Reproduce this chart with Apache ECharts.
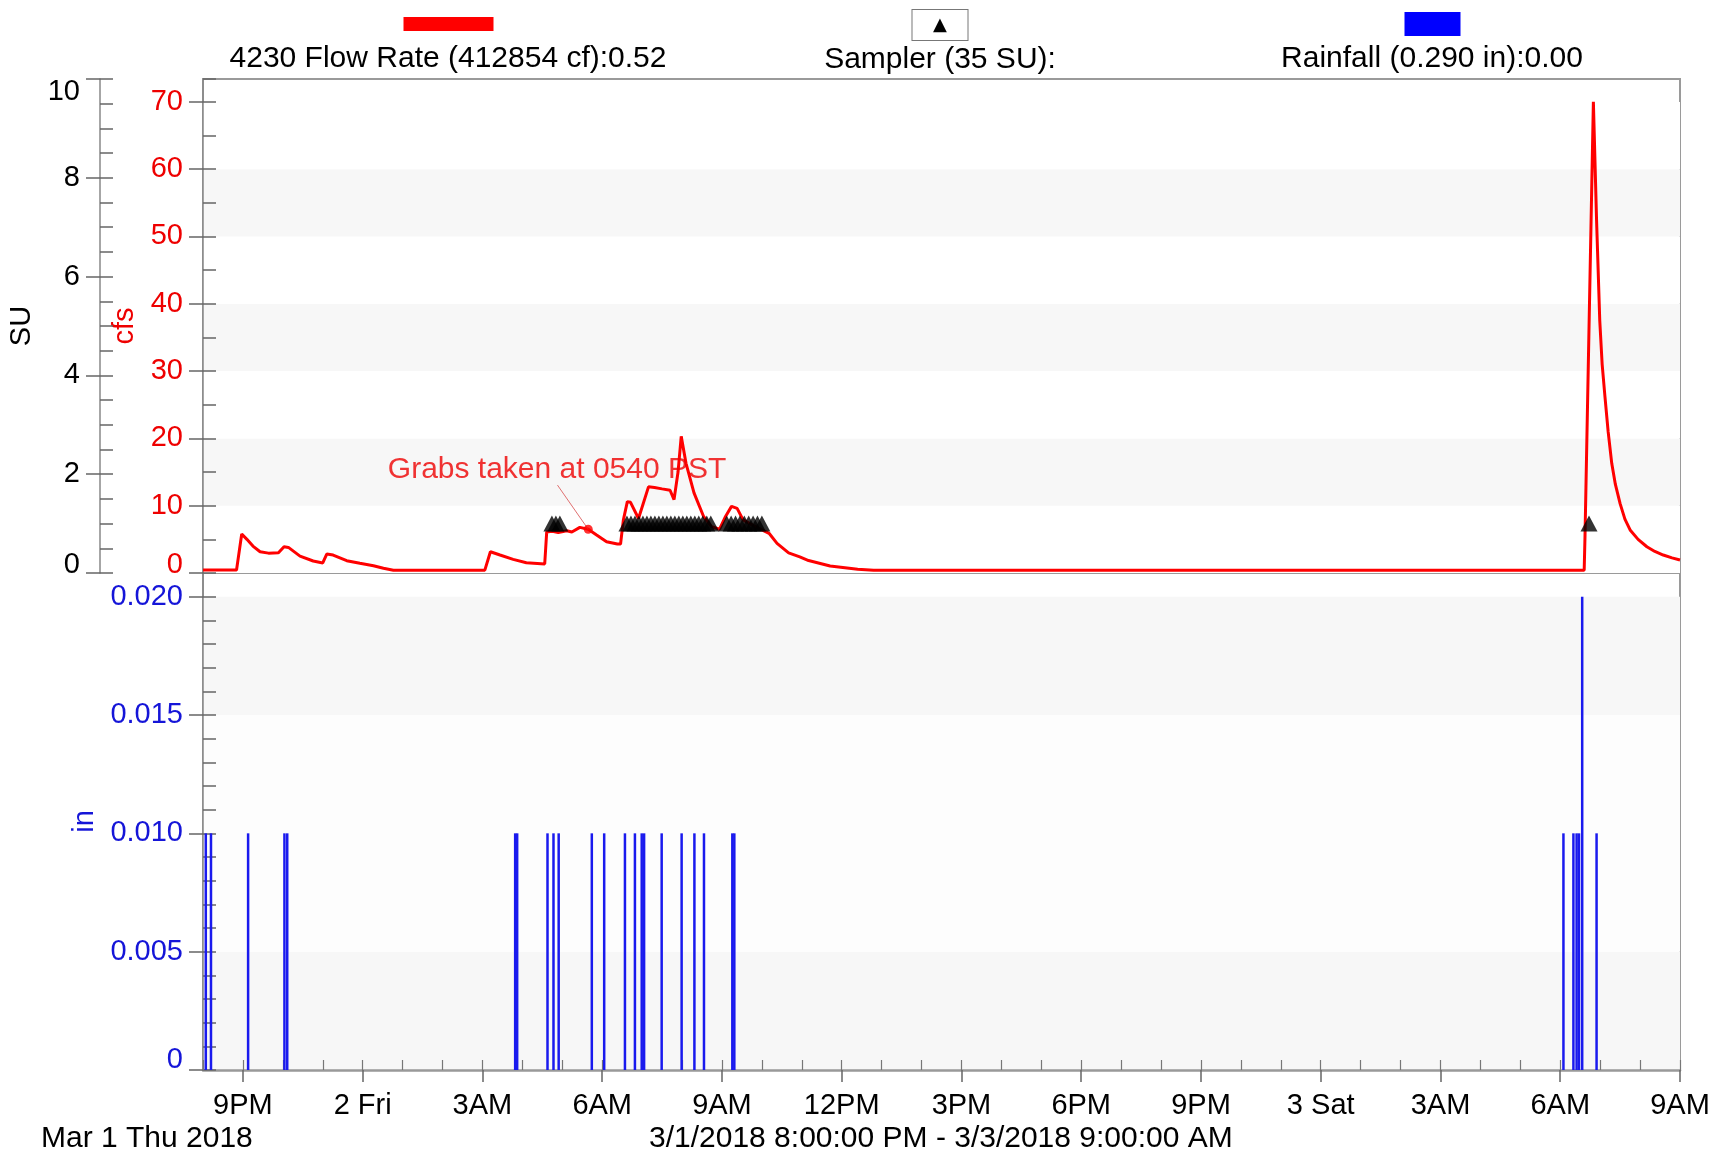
<!DOCTYPE html>
<html><head><meta charset="utf-8">
<script src="https://cdn.jsdelivr.net/npm/echarts@6/dist/echarts.min.js"></script>
<style>html,body{margin:0;padding:0;background:#fff}#c{width:1713px;height:1155px}</style>
</head><body><div id="c"></div>
<script>
// x values: hours after 3/1/2018 8:00 PM
const flowHours = [0, 0.84, 0.97, 1.10, 1.25, 1.43, 1.64, 1.89, 2.03, 2.14, 2.43, 2.76, 3.0, 3.1, 3.26, 3.6, 3.93, 4.27, 4.52, 4.77,
  7.06, 7.2, 7.44, 7.77, 8.1, 8.56, 8.61, 8.75, 8.9, 9.11, 9.24, 9.44, 9.65, 9.86, 10.11, 10.38, 10.46, 10.53, 10.63, 10.71,
  10.91, 11.16, 11.31, 11.5, 11.7, 11.8, 11.9, 11.98, 12.1, 12.3, 12.54, 12.74, 12.94, 13.09, 13.24, 13.38, 13.53, 13.8,
  14.18, 14.38, 14.67, 14.95, 15.17, 15.71, 16.4, 16.8, 34.6, 34.62, 34.83, 34.91, 34.99, 35.05, 35.12, 35.2, 35.29, 35.38,
  35.5, 35.62, 35.75, 35.95, 36.17, 36.37, 36.58, 36.8, 37];
const flowCfs = [0.45, 0.45, 5.8, 5.0, 4.0, 3.16, 2.95, 3.0, 3.9, 3.8, 2.5, 1.78, 1.5, 2.82, 2.67, 1.83, 1.44, 1.08, 0.7, 0.42,
  0.42, 3.16, 2.67, 2.03, 1.53, 1.34, 6.1, 6.2, 6.0, 6.28, 6.1, 6.78, 6.5, 5.64, 4.64, 4.3, 4.3, 7.86, 10.6, 10.5,
  8.1, 12.8, 12.7, 12.5, 12.3, 10.9, 15.0, 20.3, 16.3, 11.9, 8.4, 6.9, 6.5, 8.4, 9.9, 9.6, 7.9, 7.0,
  5.9, 4.4, 3.0, 2.4, 1.85, 1.04, 0.56, 0.42, 0.42, 5.4, 70.0, 52.4, 37.5, 31.0, 26.2, 21.0, 16.3, 13.2,
  10.3, 8.0, 6.4, 5.0, 3.9, 3.2, 2.67, 2.25, 1.93];

const samplerHours = [8.74, 8.84, 8.94,
  10.62, 10.72, 10.82, 10.92, 11.02, 11.12, 11.22, 11.32, 11.42, 11.52, 11.62, 11.72, 11.82, 11.92, 12.02, 12.12, 12.22, 12.32, 12.42, 12.52, 12.62, 12.72,
  13.12, 13.23, 13.34, 13.45, 13.56, 13.67, 13.78, 13.89, 14.0,
  34.72];
const samplerSU = [1, 1, 1,
  1, 1, 1, 1, 1, 1, 1, 1, 1, 1, 1, 1, 1, 1, 1, 1, 1, 1, 1, 1, 1, 1,
  1, 1, 1, 1, 1, 1, 1, 1, 1,
  1];

const rainHours = [0.07, 0.20, 1.13, 2.04, 2.11, 7.82, 7.87, 8.63, 8.78, 8.91, 9.74, 10.05, 10.57, 10.82, 10.99, 11.05,
  11.49, 11.99, 12.31, 12.55, 13.26, 13.31, 34.08, 34.33, 34.41, 34.47, 34.55, 34.91];
const rainInches = [0.01, 0.01, 0.01, 0.01, 0.01, 0.01, 0.01, 0.01, 0.01, 0.01, 0.01, 0.01, 0.01, 0.01, 0.01, 0.01,
  0.01, 0.01, 0.01, 0.01, 0.01, 0.01, 0.01, 0.01, 0.01, 0.01, 0.02, 0.01];

const xTickHours = [1, 4, 7, 10, 13, 16, 19, 22, 25, 28, 31, 34, 37];
const xTickLabels = ['9PM', '2 Fri', '3AM', '6AM', '9AM', '12PM', '3PM', '6PM', '9PM', '3 Sat', '3AM', '6AM', '9AM'];
const cfsTicks = [0, 10, 20, 30, 40, 50, 60, 70];
const suTicks = [0, 2, 4, 6, 8, 10];
const inTicks = [0, 0.005, 0.01, 0.015, 0.02];

const grabHour = 9.65, grabCfs = 6.5;
const grabLabelPos = [8.87, 15.3];
const grabLineStart = [8.88, 13.06];

const FONT = 'Liberation Sans, Arial, Helvetica, sans-serif';
const RED = '#ee0000', BLUE = '#1515d8';
const FS = 29, FS2 = 30;

function zip(a, b) { return a.map((v, i) => [v, b[i]]); }
function rs(color, pad) { return { color: color, fontSize: FS, fontFamily: FONT, padding: pad }; }

const legendCommon = {
  top: 9, padding: 0, itemWidth: 0, itemHeight: 0, itemGap: 0, icon: 'rect', selectedMode: false,
  itemStyle: { opacity: 0 },
  textStyle: {
    fontFamily: FONT,
    rich: {
      sp: { width: 1, height: 30, lineHeight: 30, align: 'left' },
      red: { width: 90, height: 14, backgroundColor: '#ff0000', align: 'center', verticalAlign: 'middle' },
      box: { width: 55, height: 30, lineHeight: 30, backgroundColor: '#ffffff', borderColor: '#777', borderWidth: 1, align: 'center', verticalAlign: 'middle', fontSize: 18, color: '#000', fontFamily: 'DejaVu Sans' },
      blue: { width: 56, height: 24, backgroundColor: '#0000ff', align: 'center', verticalAlign: 'middle' },
      t: { width: 500, align: 'center', fontSize: FS2, lineHeight: 40, color: '#000', fontFamily: FONT }
    }
  }
};

const option = {
  animation: false,
  backgroundColor: '#ffffff',
  textStyle: { fontFamily: FONT },
  title: [
    { text: 'Mar 1 Thu 2018', left: 41, top: 1124, padding: 0, textStyle: { fontSize: FS2, fontWeight: 'normal', color: '#000', fontFamily: FONT } },
    { text: '3/1/2018 8:00:00 PM - 3/3/2018 9:00:00 AM', left: 649, top: 1124, padding: 0, textStyle: { fontSize: FS2, fontWeight: 'normal', color: '#000', fontFamily: FONT } }
  ],
  legend: [
    Object.assign({}, legendCommon, { data: ['4230 Flow Rate'], left: 448 - 255, formatter: () => '{sp| }{red| }\n{t|4230 Flow Rate (412854 cf):0.52}' }),
    Object.assign({}, legendCommon, { data: ['Sampler'], left: 940 - 255, formatter: () => '{box|▲}\n{t|Sampler (35 SU):}' }),
    Object.assign({}, legendCommon, { data: ['Rainfall'], left: 1432 - 255, formatter: () => '{sp| }{blue| }\n{t|Rainfall (0.290 in):0.00}' })
  ],
  grid: [
    { left: 203, right: 33, top: 79, height: 494, show: true, borderColor: '#9a9a9a', borderWidth: 2, backgroundColor: 'transparent', outerBoundsMode: 'none', containLabel: false },
    { left: 203, right: 33, top: 573, height: 497, show: true, borderColor: '#9a9a9a', borderWidth: 2, backgroundColor: 'transparent', outerBoundsMode: 'none', containLabel: false }
  ],
  xAxis: [
    { type: 'value', gridIndex: 0, position: 'bottom', min: 0, max: 37, axisLine: { show: false }, axisTick: { show: false }, axisLabel: { show: false }, splitLine: { show: false } },
    { type: 'value', gridIndex: 1, position: 'bottom', min: 0, max: 37,
      axisLine: { show: true, onZero: false, lineStyle: { color: '#999', width: 2.5 } },
      axisTick: { show: true, inside: false, length: 12, customValues: xTickHours, lineStyle: { color: '#666', width: 1.5 } },
      axisLabel: { show: true, customValues: xTickHours, margin: 21, color: '#000', fontSize: FS, fontFamily: FONT,
        formatter: v => { const i = xTickHours.indexOf(Math.round(v)); return i >= 0 ? xTickLabels[i] : ''; } },
      splitLine: { show: false } },
    { type: 'value', gridIndex: 1, position: 'bottom', min: 0, max: 37, interval: 1,
      axisLine: { show: false, onZero: false }, axisTick: { show: true, inside: true, length: 10, lineStyle: { color: '#777', width: 1.2 } },
      axisLabel: { show: false }, splitLine: { show: false } }
  ],
  yAxis: [
    { type: 'value', gridIndex: 0, position: 'left', min: 0, max: 73.4, interval: 10,
      name: 'cfs', nameLocation: 'middle', nameGap: 61, nameTextStyle: { color: RED, fontSize: FS, fontFamily: FONT },
      axisLine: { show: true, lineStyle: { color: '#888', width: 1.5 } },
      axisTick: { show: true, inside: false, length: 14, customValues: cfsTicks, lineStyle: { color: '#666', width: 1.5 } },
      axisLabel: { show: true, customValues: cfsTicks, margin: 20, color: RED, fontSize: FS, fontFamily: FONT,
        formatter: v => v === 0 ? '{z|0}' : String(v), rich: { z: rs(RED, [0, 0, 17, 0]) } },
      splitLine: { show: false },
      splitArea: { show: true, areaStyle: { color: ['#ffffff', '#f7f7f7'] } } },
    { type: 'value', gridIndex: 0, position: 'left', min: 0, max: 73.4, interval: 5,
      axisLine: { show: false }, axisTick: { show: true, inside: true, length: 13, lineStyle: { color: '#666', width: 1.5 } },
      axisLabel: { show: false }, splitLine: { show: false } },
    { type: 'value', gridIndex: 0, position: 'left', offset: 103, min: 0, max: 10, interval: 2,
      name: 'SU', nameLocation: 'middle', nameGap: 62, nameTextStyle: { color: '#000', fontSize: FS, fontFamily: FONT },
      axisLine: { show: true, lineStyle: { color: '#888', width: 1.5 } },
      axisTick: { show: true, inside: false, length: 14, customValues: suTicks, lineStyle: { color: '#666', width: 1.5 } },
      axisLabel: { show: true, customValues: suTicks, margin: 20, color: '#000', fontSize: FS, fontFamily: FONT,
        formatter: v => v === 0 ? '{z|0}' : (v === 10 ? '{d|10}' : String(v)),
        rich: { z: rs('#000', [0, 0, 17, 0]), d: rs('#000', [26, 0, 0, 0]) } },
      splitLine: { show: false } },
    { type: 'value', gridIndex: 0, position: 'left', offset: 103, min: 0, max: 10, interval: 0.5,
      axisLine: { show: false }, axisTick: { show: true, inside: true, length: 13, lineStyle: { color: '#666', width: 1.5 } },
      axisLabel: { show: false }, splitLine: { show: false } },
    { type: 'value', gridIndex: 1, position: 'left', min: 0, max: 0.021, interval: 0.005,
      name: 'in', nameLocation: 'middle', nameGap: 104, nameTextStyle: { color: BLUE, fontSize: FS, fontFamily: FONT },
      axisLine: { show: true, lineStyle: { color: '#888', width: 1.5 } },
      axisTick: { show: true, inside: false, length: 14, customValues: inTicks, lineStyle: { color: '#666', width: 1.5 } },
      axisLabel: { show: true, customValues: inTicks, margin: 20, color: BLUE, fontSize: FS, fontFamily: FONT,
        formatter: v => v === 0 ? '{z|0}' : v.toFixed(3), rich: { z: rs(BLUE, [0, 0, 20, 0]) } },
      splitLine: { show: false },
      splitArea: { show: true, areaStyle: { color: ['#f7f7f7', '#fdfdfd', '#fdfdfd', '#f7f7f7'] } } },
    { type: 'value', gridIndex: 1, position: 'left', min: 0, max: 0.021, interval: 0.001,
      axisLine: { show: false }, axisTick: { show: true, inside: true, length: 13, lineStyle: { color: '#666', width: 1.5 } },
      axisLabel: { show: false }, splitLine: { show: false } }
  ],
  series: [
    { name: '4230 Flow Rate', type: 'line', xAxisIndex: 0, yAxisIndex: 0, data: zip(flowHours, flowCfs),
      showSymbol: false, symbol: 'none', silent: true, z: 3, color: '#ff0000',
      lineStyle: { color: '#ff0000', width: 3 } },
    { name: 'Sampler', type: 'scatter', xAxisIndex: 0, yAxisIndex: 2, data: zip(samplerHours, samplerSU),
      symbol: 'triangle', symbolSize: [17, 16], silent: true, z: 5, itemStyle: { color: '#000000' } },
    { name: 'Rainfall', type: 'bar', xAxisIndex: 1, yAxisIndex: 4, data: zip(rainHours, rainInches),
      barWidth: 2.5, silent: true, itemStyle: { color: '#1a1aee' } },
    { name: 'grab', type: 'scatter', xAxisIndex: 0, yAxisIndex: 0, data: [[grabHour, grabCfs]],
      symbolSize: 9, silent: true, z: 6, itemStyle: { color: '#ff0000' },
      markLine: { silent: true, symbol: ['none', 'none'], label: { show: false },
        lineStyle: { color: '#e07070', width: 1, type: 'solid' },
        data: [[{ coord: grabLineStart }, { coord: [grabHour, grabCfs] }]] } },
    { name: 'grabLabel', type: 'scatter', xAxisIndex: 0, yAxisIndex: 0, data: [grabLabelPos],
      symbolSize: 2, silent: true, z: 7, itemStyle: { color: 'rgba(0,0,0,0)' },
      label: { show: true, position: 'inside', formatter: 'Grabs taken at 0540 PST', color: RED, fontSize: FS2, fontFamily: FONT } }
  ]
};

const chart = echarts.init(document.getElementById('c'), null, { renderer: 'canvas' });
chart.setOption(option);
</script>
</body></html>
